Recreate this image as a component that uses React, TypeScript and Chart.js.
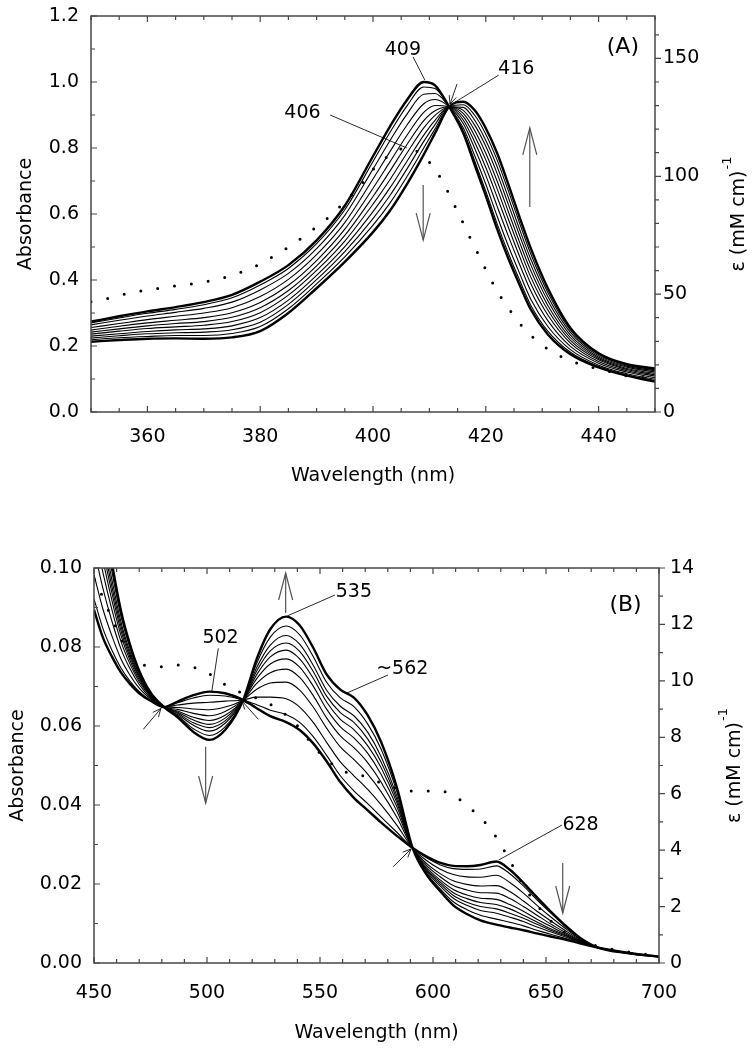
import React, { useEffect, useRef } from "react";
import { Chart, registerables } from "chart.js";

Chart.register(...registerables);

const FONT = "'DejaVu Sans', 'Liberation Sans', sans-serif";
const AXIS_COLOR = "#474747";

// ---------------- Panel A (Soret region) ----------------
const wavelengthsA = [350, 355, 360, 365, 370, 375, 380, 385, 390, 395, 400, 403, 406, 409, 411, 413.5, 416, 418, 420, 422, 424, 426, 428, 431, 435, 440, 445, 450];
const absA00 = [0.274, 0.290, 0.305, 0.318, 0.333, 0.355, 0.395, 0.445, 0.520, 0.625, 0.775, 0.865, 0.945, 1.000, 0.990, 0.925, 0.845, 0.750, 0.655, 0.555, 0.465, 0.385, 0.310, 0.235, 0.175, 0.135, 0.110, 0.092];
const absA01 = [0.270, 0.285, 0.299, 0.311, 0.325, 0.346, 0.385, 0.435, 0.510, 0.613, 0.759, 0.847, 0.927, 0.985, 0.980, 0.925, 0.852, 0.762, 0.669, 0.571, 0.481, 0.399, 0.323, 0.245, 0.181, 0.138, 0.112, 0.095];
const absA02 = [0.264, 0.278, 0.291, 0.302, 0.314, 0.333, 0.370, 0.420, 0.495, 0.596, 0.736, 0.822, 0.902, 0.963, 0.965, 0.925, 0.861, 0.778, 0.690, 0.594, 0.503, 0.420, 0.341, 0.259, 0.189, 0.142, 0.116, 0.099];
const absA03 = [0.256, 0.268, 0.280, 0.290, 0.300, 0.316, 0.350, 0.402, 0.477, 0.574, 0.706, 0.789, 0.869, 0.934, 0.947, 0.925, 0.874, 0.800, 0.717, 0.624, 0.533, 0.447, 0.366, 0.277, 0.199, 0.148, 0.121, 0.104];
const absA04 = [0.248, 0.260, 0.270, 0.278, 0.286, 0.301, 0.332, 0.384, 0.459, 0.554, 0.678, 0.758, 0.838, 0.908, 0.929, 0.925, 0.885, 0.819, 0.741, 0.652, 0.560, 0.471, 0.388, 0.294, 0.209, 0.153, 0.125, 0.109];
const absA05 = [0.242, 0.252, 0.261, 0.268, 0.274, 0.287, 0.316, 0.368, 0.443, 0.535, 0.653, 0.730, 0.810, 0.883, 0.913, 0.925, 0.895, 0.837, 0.764, 0.677, 0.584, 0.494, 0.408, 0.309, 0.217, 0.158, 0.129, 0.113];
const absA06 = [0.236, 0.245, 0.253, 0.258, 0.263, 0.274, 0.301, 0.354, 0.429, 0.518, 0.630, 0.704, 0.784, 0.861, 0.899, 0.925, 0.905, 0.854, 0.784, 0.700, 0.607, 0.514, 0.427, 0.323, 0.225, 0.162, 0.132, 0.117];
const absA07 = [0.230, 0.237, 0.244, 0.249, 0.252, 0.261, 0.286, 0.339, 0.414, 0.501, 0.607, 0.679, 0.759, 0.839, 0.884, 0.925, 0.914, 0.870, 0.805, 0.723, 0.629, 0.535, 0.445, 0.337, 0.233, 0.166, 0.136, 0.121];
const absA08 = [0.224, 0.231, 0.237, 0.240, 0.242, 0.249, 0.272, 0.326, 0.401, 0.486, 0.586, 0.656, 0.736, 0.820, 0.871, 0.925, 0.923, 0.885, 0.823, 0.744, 0.650, 0.553, 0.462, 0.350, 0.241, 0.170, 0.139, 0.125];
const absA09 = [0.219, 0.225, 0.229, 0.232, 0.232, 0.238, 0.259, 0.313, 0.388, 0.470, 0.566, 0.633, 0.713, 0.800, 0.858, 0.925, 0.931, 0.900, 0.842, 0.764, 0.670, 0.572, 0.478, 0.362, 0.248, 0.174, 0.142, 0.128];
const absA10 = [0.213, 0.218, 0.222, 0.223, 0.222, 0.226, 0.245, 0.300, 0.375, 0.455, 0.545, 0.610, 0.690, 0.780, 0.845, 0.925, 0.940, 0.915, 0.860, 0.785, 0.690, 0.590, 0.495, 0.375, 0.255, 0.178, 0.145, 0.132];
const curvesA = [absA00, absA01, absA02, absA03, absA04, absA05, absA06, absA07, absA08, absA09, absA10];
const thickA = [true, false, false, false, false, false, false, false, false, false, true];

const dottedWlA = [350, 353, 356, 359, 362, 365, 368, 371, 374, 377, 380, 383, 386, 389, 392, 395, 398, 400, 403, 406, 408.5, 411, 412.7, 414.1, 415.5, 416.8, 418.2, 419.6, 421, 422.6, 424.6, 426.8, 429.6, 432.5, 435.2, 438, 441, 444, 447, 450];
const dottedEpsA = [46.8, 48.2, 50.0, 51.4, 52.5, 53.5, 54.4, 55.6, 57.3, 59.7, 62.8, 67.0, 71.5, 76.8, 82.3, 89.2, 96.8, 102.9, 109.1, 112.0, 109.5, 102.9, 96.2, 89.3, 82.6, 75.9, 69.2, 62.3, 55.7, 49.0, 42.1, 35.4, 29.1, 24.6, 21.6, 19.5, 17.8, 15.8, 14.8, 14.2];

const xLabelsA = [360, 380, 400, 420, 440];
const yLabelsA = [0, 0.2, 0.4, 0.6, 0.8, 1.0, 1.2];
const y2LabelsA = [0, 50, 100, 150];

// ---------------- Panel B (visible region) ----------------
const wavelengthsB = [450, 454, 458, 462, 466, 470, 475, 481, 487, 494, 501, 508, 516, 522, 528, 535, 541, 547, 553, 559, 565, 571, 577, 584, 591, 597, 603, 609, 615, 621, 628, 634, 640, 646, 652, 658, 665, 673, 686, 700];
const absB00 = [0.0894, 0.0823, 0.0775, 0.0735, 0.0706, 0.0683, 0.0664, 0.0648, 0.0662, 0.0678, 0.0687, 0.0683, 0.0666, 0.0645, 0.0625, 0.0610, 0.0590, 0.0556, 0.0510, 0.0458, 0.0418, 0.0387, 0.0356, 0.0322, 0.0291, 0.0270, 0.0254, 0.0246, 0.0245, 0.0248, 0.0257, 0.0236, 0.0203, 0.0166, 0.0131, 0.0098, 0.0064, 0.0039, 0.0025, 0.0016];
const absB01 = [0.0922, 0.0846, 0.0791, 0.0746, 0.0713, 0.0687, 0.0665, 0.0648, 0.0659, 0.0671, 0.0678, 0.0676, 0.0666, 0.0654, 0.0640, 0.0629, 0.0609, 0.0573, 0.0525, 0.0474, 0.0436, 0.0404, 0.0370, 0.0331, 0.0291, 0.0267, 0.0249, 0.0239, 0.0237, 0.0238, 0.0246, 0.0226, 0.0195, 0.0160, 0.0127, 0.0095, 0.0063, 0.0039, 0.0025, 0.0016];
const absB02 = [0.0983, 0.0895, 0.0827, 0.0769, 0.0728, 0.0696, 0.0669, 0.0648, 0.0653, 0.0658, 0.0660, 0.0663, 0.0666, 0.0673, 0.0673, 0.0669, 0.0648, 0.0609, 0.0558, 0.0509, 0.0474, 0.0440, 0.0401, 0.0349, 0.0291, 0.0260, 0.0238, 0.0224, 0.0218, 0.0217, 0.0222, 0.0204, 0.0177, 0.0146, 0.0117, 0.0090, 0.0061, 0.0039, 0.0025, 0.0016];
const absB03 = [0.1048, 0.0947, 0.0864, 0.0794, 0.0744, 0.0705, 0.0672, 0.0648, 0.0647, 0.0643, 0.0641, 0.0648, 0.0666, 0.0693, 0.0709, 0.0711, 0.0691, 0.0648, 0.0594, 0.0547, 0.0515, 0.0479, 0.0434, 0.0369, 0.0291, 0.0253, 0.0227, 0.0208, 0.0199, 0.0195, 0.0196, 0.0181, 0.0157, 0.0131, 0.0107, 0.0084, 0.0059, 0.0039, 0.0025, 0.0016];
const absB04 = [0.1097, 0.0987, 0.0893, 0.0813, 0.0756, 0.0712, 0.0675, 0.0648, 0.0642, 0.0632, 0.0626, 0.0637, 0.0666, 0.0708, 0.0735, 0.0744, 0.0723, 0.0677, 0.0620, 0.0575, 0.0545, 0.0508, 0.0458, 0.0384, 0.0291, 0.0248, 0.0219, 0.0196, 0.0185, 0.0178, 0.0177, 0.0163, 0.0143, 0.0121, 0.0099, 0.0079, 0.0057, 0.0039, 0.0025, 0.0016];
const absB05 = [0.1138, 0.1019, 0.0916, 0.0828, 0.0765, 0.0717, 0.0677, 0.0648, 0.0638, 0.0622, 0.0614, 0.0627, 0.0666, 0.0720, 0.0757, 0.0770, 0.0749, 0.0701, 0.0642, 0.0598, 0.0570, 0.0532, 0.0478, 0.0396, 0.0291, 0.0243, 0.0211, 0.0186, 0.0172, 0.0164, 0.0161, 0.0148, 0.0131, 0.0111, 0.0093, 0.0075, 0.0056, 0.0039, 0.0026, 0.0016];
const absB06 = [0.1170, 0.1045, 0.0935, 0.0840, 0.0773, 0.0722, 0.0678, 0.0648, 0.0635, 0.0615, 0.0604, 0.0620, 0.0666, 0.0730, 0.0775, 0.0792, 0.0770, 0.0721, 0.0660, 0.0617, 0.0591, 0.0551, 0.0495, 0.0406, 0.0291, 0.0239, 0.0206, 0.0178, 0.0163, 0.0153, 0.0148, 0.0137, 0.0121, 0.0104, 0.0087, 0.0072, 0.0054, 0.0039, 0.0026, 0.0016];
const absB07 = [0.1199, 0.1068, 0.0951, 0.0851, 0.0780, 0.0726, 0.0680, 0.0648, 0.0632, 0.0608, 0.0596, 0.0613, 0.0666, 0.0739, 0.0790, 0.0810, 0.0789, 0.0738, 0.0675, 0.0634, 0.0609, 0.0568, 0.0509, 0.0414, 0.0291, 0.0236, 0.0201, 0.0171, 0.0154, 0.0143, 0.0137, 0.0126, 0.0113, 0.0098, 0.0083, 0.0070, 0.0054, 0.0039, 0.0026, 0.0016];
const absB08 = [0.1227, 0.1091, 0.0968, 0.0862, 0.0787, 0.0730, 0.0681, 0.0648, 0.0629, 0.0602, 0.0587, 0.0607, 0.0666, 0.0748, 0.0805, 0.0829, 0.0807, 0.0754, 0.0690, 0.0650, 0.0626, 0.0585, 0.0523, 0.0423, 0.0291, 0.0233, 0.0196, 0.0164, 0.0146, 0.0133, 0.0126, 0.0116, 0.0105, 0.0091, 0.0079, 0.0067, 0.0053, 0.0039, 0.0026, 0.0016];
const absB09 = [0.1263, 0.1121, 0.0989, 0.0876, 0.0796, 0.0735, 0.0683, 0.0648, 0.0626, 0.0593, 0.0576, 0.0598, 0.0666, 0.0759, 0.0825, 0.0853, 0.0831, 0.0776, 0.0710, 0.0671, 0.0649, 0.0606, 0.0542, 0.0434, 0.0291, 0.0229, 0.0189, 0.0155, 0.0135, 0.0121, 0.0111, 0.0103, 0.0094, 0.0083, 0.0073, 0.0063, 0.0051, 0.0039, 0.0026, 0.0016];
const absB10 = [0.1300, 0.1150, 0.1010, 0.0890, 0.0805, 0.0740, 0.0685, 0.0648, 0.0622, 0.0585, 0.0565, 0.0590, 0.0666, 0.0770, 0.0845, 0.0877, 0.0855, 0.0798, 0.0730, 0.0692, 0.0672, 0.0628, 0.0560, 0.0445, 0.0291, 0.0225, 0.0183, 0.0146, 0.0124, 0.0108, 0.0097, 0.0090, 0.0083, 0.0075, 0.0067, 0.0060, 0.0050, 0.0039, 0.0026, 0.0016];
const curvesB = [absB00, absB01, absB02, absB03, absB04, absB05, absB06, absB07, absB08, absB09, absB10];
const thickB = [true, false, false, false, false, false, false, false, false, false, true];

const dottedWlB = [450, 452, 455, 458, 462, 466, 472, 479, 486, 493, 500, 507, 514, 521, 528, 535, 542, 547, 554, 561, 568, 574, 582, 589, 596, 603, 610, 617, 624, 629, 633, 637, 641, 646, 652, 659, 666, 675, 690, 700];
const dottedEpsB = [13.6, 13.3, 12.75, 12.2, 11.5, 10.9, 10.56, 10.5, 10.56, 10.5, 10.3, 9.91, 9.62, 9.42, 9.17, 8.79, 8.23, 7.7, 7.14, 6.78, 6.66, 6.47, 6.24, 6.1, 6.1, 6.1, 5.89, 5.45, 4.89, 4.33, 3.77, 3.19, 2.62, 2.06, 1.5, 1.05, 0.77, 0.56, 0.35, 0.25];

const xLabelsB = [450, 500, 550, 600, 650, 700];
const yLabelsB = [0, 0.02, 0.04, 0.06, 0.08, 0.1];
const y2LabelsB = [0, 2, 4, 6, 8, 10, 12, 14];

// ---------------- Annotations (data coordinates) ----------------
type Txt = { text: string; x: number; y: number; size: number };
type Seg = { x1: number; y1: number; x2: number; y2: number };
type VArrow = { x: number; tail: number; tip: number };

type PanelCfg = {
  width: number;
  height: number;
  top: number;
  xMin: number; xMax: number; xMinor: number; xMajor: number[]; xLabels: number[];
  yMin: number; yMax: number; yMinor: number; yMajor: number[]; yLabels: number[]; yDigits: number;
  y2Max: number; y2Minor: number; y2Major: number[]; y2Labels: number[];
  leftWidth: number; rightWidth: number; padTop: number; xAxisHeight: number;
  xTickPad: number; yTickPad: number; y2TickPad: number;
  xTitleBase: number; yTitleBase: number; y2TitleBase: number;
  wl: number[]; curves: number[][]; thick: boolean[];
  dotWl: number[]; dotVals: number[];
  texts: Txt[]; leaders: Seg[]; bigArrows: VArrow[]; smallArrows: Seg[];
};

const panelA: PanelCfg = {
  width: 754, height: 520, top: 0,
  xMin: 350, xMax: 450, xMinor: 5, xMajor: xLabelsA, xLabels: xLabelsA,
  yMin: 0, yMax: 1.2, yMinor: 0.1, yMajor: yLabelsA, yLabels: yLabelsA, yDigits: 1,
  y2Max: 168, y2Minor: 10, y2Major: y2LabelsA, y2Labels: y2LabelsA,
  leftWidth: 91, rightWidth: 99, padTop: 16, xAxisHeight: 108,
  xTickPad: 14, yTickPad: 12, y2TickPad: 8,
  xTitleBase: 68.5, yTitleBase: 59.6, y2TitleBase: 89,
  wl: wavelengthsA, curves: curvesA, thick: thickA,
  dotWl: dottedWlA, dotVals: dottedEpsA,
  texts: [
    { text: "409", x: 405.3, y: 1.102, size: 19 },
    { text: "416", x: 425.4, y: 1.045, size: 19 },
    { text: "406", x: 387.5, y: 0.911, size: 19 },
    { text: "(A)", x: 444.3, y: 1.112, size: 22 },
  ],
  leaders: [
    { x1: 407.1, y1: 1.076, x2: 409.2, y2: 1.006 },
    { x1: 422.3, y1: 1.021, x2: 414.0, y2: 0.933 },
    { x1: 392.4, y1: 0.9, x2: 406.0, y2: 0.8 },
  ],
  bigArrows: [
    { x: 408.9, tail: 0.688, tip: 0.521 },
    { x: 427.8, tail: 0.621, tip: 0.861 },
  ],
  smallArrows: [{ x1: 414.9, y1: 0.994, x2: 413.65, y2: 0.933 }],
};

const panelB: PanelCfg = {
  width: 754, height: 530, top: 520,
  xMin: 450, xMax: 700, xMinor: 10, xMajor: xLabelsB, xLabels: xLabelsB,
  yMin: 0, yMax: 0.1, yMinor: 0.01, yMajor: yLabelsB, yLabels: yLabelsB, yDigits: 2,
  y2Max: 14, y2Minor: 1, y2Major: y2LabelsB, y2Labels: y2LabelsB,
  leftWidth: 94, rightWidth: 95, padTop: 48, xAxisHeight: 87,
  xTickPad: 19, yTickPad: 12, y2TickPad: 11,
  xTitleBase: 74.7, yTitleBase: 71.3, y2TitleBase: 81,
  wl: wavelengthsB, curves: curvesB, thick: thickB,
  dotWl: dottedWlB, dotVals: dottedEpsB,
  texts: [
    { text: "502", x: 506.0, y: 0.08266, size: 19 },
    { text: "535", x: 565.0, y: 0.09443, size: 19 },
    { text: "~562", x: 586.4, y: 0.07481, size: 19 },
    { text: "628", x: 665.3, y: 0.03532, size: 19 },
    { text: "(B)", x: 685.2, y: 0.09127, size: 22 },
  ],
  leaders: [
    { x1: 505.0, y1: 0.07967, x2: 502.1, y2: 0.06868 },
    { x1: 556.6, y1: 0.09316, x2: 535.5, y2: 0.08785 },
    { x1: 580.1, y1: 0.07291, x2: 561.9, y2: 0.06835 },
    { x1: 657.1, y1: 0.03494, x2: 629.1, y2: 0.02608 },
  ],
  bigArrows: [
    { x: 534.8, tail: 0.0886, tip: 0.09873 },
    { x: 499.4, tail: 0.05476, tip: 0.04051 },
    { x: 657.4, tail: 0.02532, tip: 0.01266 },
  ],
  smallArrows: [
    { x1: 471.8, y1: 0.05916, x2: 479.6, y2: 0.06443 },
    { x1: 522.7, y1: 0.0617, x2: 515.5, y2: 0.06633 },
    { x1: 582.4, y1: 0.02438, x2: 590.3, y2: 0.02886 },
  ],
};

function drawHead(ctx: CanvasRenderingContext2D, x1: number, y1: number, x2: number, y2: number, len: number, half: number) {
  const a = Math.atan2(y2 - y1, x2 - x1);
  ctx.beginPath();
  ctx.moveTo(x2 - len * Math.cos(a - half), y2 - len * Math.sin(a - half));
  ctx.lineTo(x2, y2);
  ctx.lineTo(x2 - len * Math.cos(a + half), y2 - len * Math.sin(a + half));
  ctx.stroke();
}

function stepValues(min: number, max: number, step: number): number[] {
  const n = Math.round((max - min) / step);
  const out: number[] = [];
  for (let i = 0; i <= n; i++) out.push(min + i * step);
  return out;
}

function isMajor(v: number, majors: number[], step: number) {
  return majors.some((m) => Math.abs(m - v) < step * 1e-3);
}

function makeDecorPlugin(cfg: PanelCfg) {
  return {
    id: "decor",
    afterDatasetsDraw(chart: any) {
      const ctx: CanvasRenderingContext2D = chart.ctx;
      const area = chart.chartArea;
      const xs = chart.scales.x;
      const ys = chart.scales.y;
      const y2s = chart.scales.y2;
      ctx.save();
      // frame
      ctx.strokeStyle = AXIS_COLOR;
      ctx.lineWidth = 1.5;
      ctx.strokeRect(area.left, area.top, area.right - area.left, area.bottom - area.top);
      // ticks
      ctx.lineWidth = 1.2;
      ctx.beginPath();
      for (const v of stepValues(cfg.xMin, cfg.xMax, cfg.xMinor)) {
        const px = xs.getPixelForValue(v);
        const len = isMajor(v, cfg.xMajor, cfg.xMinor) ? 6 : 4;
        ctx.moveTo(px, area.bottom);
        ctx.lineTo(px, area.bottom - len);
        ctx.moveTo(px, area.top);
        ctx.lineTo(px, area.top + len);
      }
      for (const v of stepValues(cfg.yMin, cfg.yMax, cfg.yMinor)) {
        const py = ys.getPixelForValue(v);
        const len = isMajor(v, cfg.yMajor, cfg.yMinor) ? 6 : 4;
        ctx.moveTo(area.left, py);
        ctx.lineTo(area.left + len, py);
      }
      for (const v of stepValues(0, Math.floor(cfg.y2Max / cfg.y2Minor) * cfg.y2Minor, cfg.y2Minor)) {
        const py = y2s.getPixelForValue(v);
        const len = isMajor(v, cfg.y2Major, cfg.y2Minor) ? 6 : 4;
        ctx.moveTo(area.right, py);
        ctx.lineTo(area.right + len, py);
      }
      ctx.stroke();

      // leaders
      ctx.strokeStyle = "#111";
      ctx.lineWidth = 0.9;
      for (const s of cfg.leaders) {
        ctx.beginPath();
        ctx.moveTo(xs.getPixelForValue(s.x1), ys.getPixelForValue(s.y1));
        ctx.lineTo(xs.getPixelForValue(s.x2), ys.getPixelForValue(s.y2));
        ctx.stroke();
      }
      // small arrows
      for (const s of cfg.smallArrows) {
        const x1 = xs.getPixelForValue(s.x1), y1 = ys.getPixelForValue(s.y1);
        const x2 = xs.getPixelForValue(s.x2), y2 = ys.getPixelForValue(s.y2);
        ctx.beginPath();
        ctx.moveTo(x1, y1);
        ctx.lineTo(x2, y2);
        ctx.stroke();
        drawHead(ctx, x1, y1, x2, y2, 9, 0.42);
      }
      // big arrows
      ctx.strokeStyle = "#555";
      ctx.lineWidth = 1.2;
      for (const a of cfg.bigArrows) {
        const px = xs.getPixelForValue(a.x);
        const t = ys.getPixelForValue(a.tail);
        const p = ys.getPixelForValue(a.tip);
        ctx.beginPath();
        ctx.moveTo(px, t);
        ctx.lineTo(px, p);
        ctx.stroke();
        drawHead(ctx, px, t, px, p, 27.9, 0.2535);
      }
      // texts
      ctx.fillStyle = "#000";
      ctx.textAlign = "center";
      ctx.textBaseline = "alphabetic";
      for (const t of cfg.texts) {
        ctx.font = `${t.size}px ${FONT}`;
        ctx.fillText(t.text, xs.getPixelForValue(t.x), ys.getPixelForValue(t.y) + 0.365 * t.size);
      }
      // axis titles
      const cx = (area.left + area.right) / 2;
      const cy = (area.top + area.bottom) / 2;
      ctx.font = `19px ${FONT}`;
      ctx.fillText("Wavelength (nm)", cx, area.bottom + cfg.xTitleBase);
      ctx.save();
      ctx.translate(area.left - cfg.yTitleBase, cy);
      ctx.rotate(-Math.PI / 2);
      ctx.fillText("Absorbance", 0, 0);
      ctx.restore();
      ctx.save();
      ctx.translate(area.right + cfg.y2TitleBase, cy);
      ctx.rotate(-Math.PI / 2);
      ctx.textAlign = "left";
      const main = "\u03b5 (mM cm)";
      ctx.font = `19px ${FONT}`;
      const w1 = ctx.measureText(main).width;
      ctx.font = `13px ${FONT}`;
      const w2 = ctx.measureText("-1").width;
      const total = w1 + w2 + 1;
      ctx.font = `19px ${FONT}`;
      ctx.fillText(main, -total / 2, 0);
      ctx.font = `13px ${FONT}`;
      ctx.fillText("-1", -total / 2 + w1 + 1, -13);
      ctx.restore();
      ctx.restore();
    },
  };
}

function zeroPad(s: any) {
  s.paddingTop = 0;
  s.paddingBottom = 0;
  s.paddingLeft = 0;
  s.paddingRight = 0;
}

function buildChart(canvas: HTMLCanvasElement, cfg: PanelCfg) {
  const datasets: any[] = cfg.curves.map((vals, i) => ({
    data: cfg.wl.map((x, j) => ({ x, y: vals[j] })),
    borderColor: "#000",
    borderWidth: cfg.thick[i] ? 2.4 : 1.1,
    pointRadius: 0,
    cubicInterpolationMode: "monotone",
    fill: false,
    yAxisID: "y",
  }));
  datasets.push({
    data: cfg.dotWl.map((x, j) => ({ x, y: cfg.dotVals[j] })),
    borderColor: "#000",
    borderWidth: 3,
    borderDash: [0, 17],
    borderCapStyle: "round",
    pointRadius: 0,
    cubicInterpolationMode: "monotone",
    fill: false,
    yAxisID: "y2",
  });
  const tickFont = { family: FONT, size: 19 };
  const grid = { display: false, drawTicks: false, tickLength: 0 };
  return new Chart(canvas, {
    type: "line",
    data: { datasets },
    plugins: [makeDecorPlugin(cfg)],
    options: {
      responsive: false,
      maintainAspectRatio: false,
      devicePixelRatio: 1,
      animation: false,
      layout: { padding: { top: cfg.padTop, left: 0, right: 0, bottom: 0 } },
      plugins: { legend: { display: false }, tooltip: { enabled: false } },
      scales: {
        x: {
          type: "linear",
          min: cfg.xMin,
          max: cfg.xMax,
          grid,
          border: { display: false },
          ticks: { font: tickFont, color: "#000", padding: cfg.xTickPad, autoSkip: false, maxRotation: 0 },
          afterBuildTicks: (s: any) => { s.ticks = cfg.xLabels.map((v) => ({ value: v })); },
          afterFit: (s: any) => { s.height = cfg.xAxisHeight; zeroPad(s); },
        },
        y: {
          type: "linear",
          position: "left",
          min: cfg.yMin,
          max: cfg.yMax,
          grid,
          border: { display: false },
          ticks: {
            font: tickFont, color: "#000", padding: cfg.yTickPad, autoSkip: false,
            callback: (v: any) => Number(v).toFixed(cfg.yDigits),
          },
          afterBuildTicks: (s: any) => { s.ticks = cfg.yLabels.map((v) => ({ value: v })); },
          afterFit: (s: any) => { s.width = cfg.leftWidth; zeroPad(s); },
        },
        y2: {
          type: "linear",
          position: "right",
          min: 0,
          max: cfg.y2Max,
          grid,
          border: { display: false },
          ticks: { font: tickFont, color: "#000", padding: cfg.y2TickPad, autoSkip: false, callback: (v: any) => String(v) },
          afterBuildTicks: (s: any) => { s.ticks = cfg.y2Labels.map((v) => ({ value: v })); },
          afterFit: (s: any) => { s.width = cfg.rightWidth; zeroPad(s); },
        },
      },
    } as any,
  });
}

export default function App() {
  const refA = useRef<HTMLCanvasElement>(null);
  const refB = useRef<HTMLCanvasElement>(null);
  useEffect(() => {
    const a = buildChart(refA.current!, panelA);
    const b = buildChart(refB.current!, panelB);
    return () => {
      a.destroy();
      b.destroy();
    };
  }, []);
  return (
    <div style={{ position: "absolute", left: 0, top: 0, width: 754, height: 1050, background: "#fff" }}>
      <canvas ref={refA} width={panelA.width} height={panelA.height}
        style={{ position: "absolute", left: 0, top: panelA.top, width: panelA.width, height: panelA.height }} />
      <canvas ref={refB} width={panelB.width} height={panelB.height}
        style={{ position: "absolute", left: 0, top: panelB.top, width: panelB.width, height: panelB.height }} />
    </div>
  );
}
